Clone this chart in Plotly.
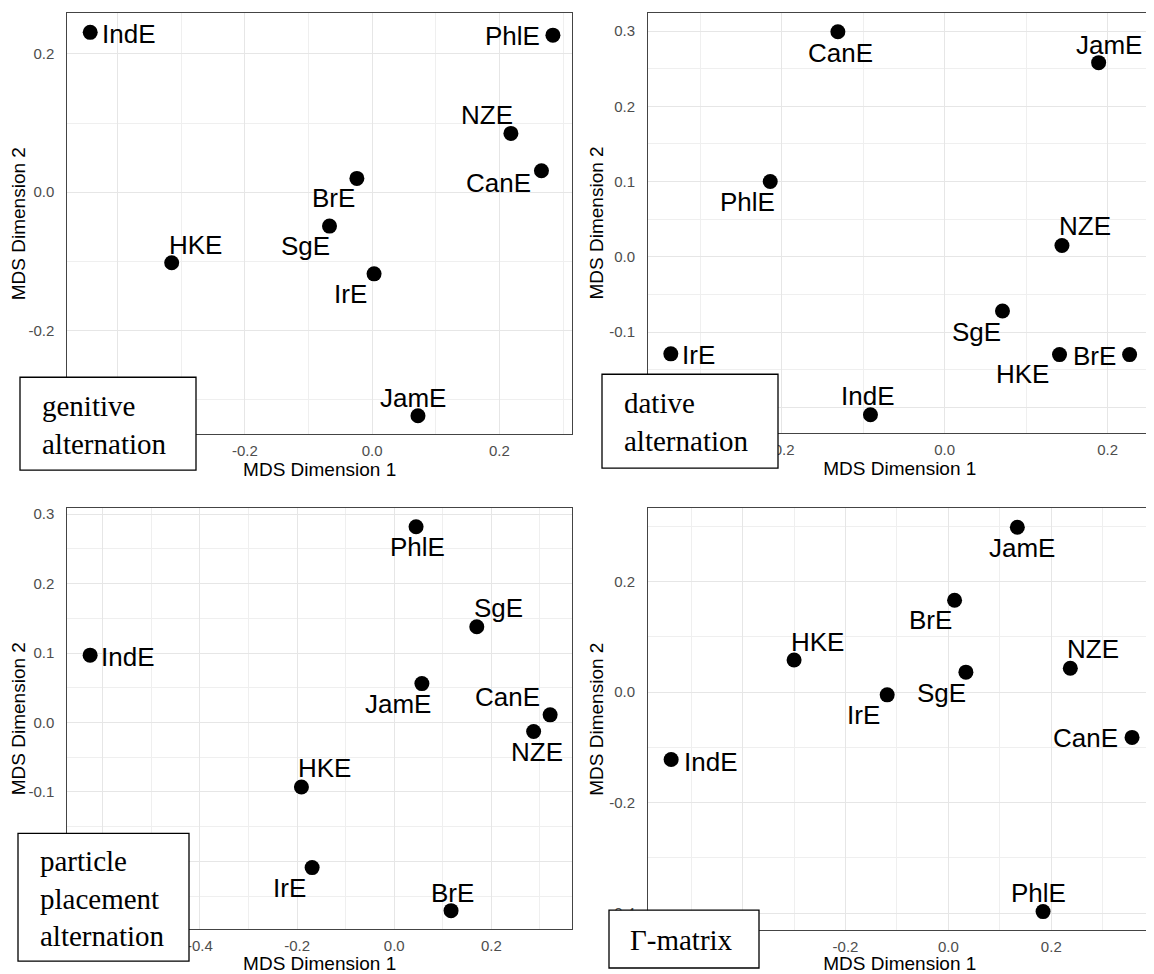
import plotly.graph_objects as go

# ---------------- data ----------------
genitive_labels = ["IndE", "PhlE", "NZE", "CanE", "BrE", "SgE", "HKE", "IrE", "JamE"]
genitive_dim1 = [-0.443, 0.284, 0.218, 0.266, -0.024, -0.067, -0.315, 0.003, 0.072]
genitive_dim2 = [0.231, 0.227, 0.085, 0.031, 0.020, -0.049, -0.102, -0.118, -0.323]

dative_labels = ["CanE", "JamE", "PhlE", "NZE", "SgE", "IrE", "HKE", "BrE", "IndE"]
dative_dim1 = [-0.131, 0.189, -0.214, 0.144, 0.071, -0.336, 0.141, 0.227, -0.091]
dative_dim2 = [0.299, 0.258, 0.100, 0.015, -0.072, -0.129, -0.130, -0.130, -0.210]

particle_labels = ["PhlE", "SgE", "IndE", "JamE", "CanE", "NZE", "HKE", "IrE", "BrE"]
particle_dim1 = [0.045, 0.170, -0.626, 0.057, 0.321, 0.287, -0.191, -0.169, 0.117]
particle_dim2 = [0.282, 0.138, 0.097, 0.056, 0.011, -0.013, -0.093, -0.209, -0.271]

gamma_labels = ["JamE", "BrE", "HKE", "NZE", "SgE", "IrE", "CanE", "IndE", "PhlE"]
gamma_dim1 = [0.134, 0.012, -0.300, 0.237, 0.034, -0.119, 0.357, -0.539, 0.184]
gamma_dim2 = [0.298, 0.166, 0.058, 0.043, 0.036, -0.005, -0.082, -0.122, -0.397]

panel_titles = ["genitive<br>alternation", "dative<br>alternation",
                "particle<br>placement<br>alternation", "Γ-matrix"]

x_tickvals = [[-0.4, -0.2, 0.0, 0.2], [-0.2, 0.0, 0.2],
              [-0.6, -0.4, -0.2, 0.0, 0.2], [-0.4, -0.2, 0.0, 0.2, 0.4]]
x_ticktext = [["-0.4", "-0.2", "0.0", "0.2"], ["-0.2", "0.0", "0.2"],
              ["-0.6", "-0.4", "-0.2", "0.0", "0.2"], ["-0.4", "-0.2", "0.0", "0.2", "0.4"]]
y_tickvals = [[-0.2, 0.0, 0.2], [-0.2, -0.1, 0.0, 0.1, 0.2, 0.3],
              [-0.2, -0.1, 0.0, 0.1, 0.2, 0.3], [-0.4, -0.2, 0.0, 0.2]]
y_ticktext = [["-0.2", "0.0", "0.2"], ["-0.2", "-0.1", "0.0", "0.1", "0.2", "0.3"],
              ["-0.2", "-0.1", "0.0", "0.1", "0.2", "0.3"], ["-0.4", "-0.2", "0.0", "0.2"]]

# ---------------- styling / layout ----------------
OFF = 8                      # page body margin of the html page
W, H = 1154 - OFF, 974 - OFF
SANS = "Liberation Sans, Arial, sans-serif"
SERIF = "Liberation Serif, Times New Roman, serif"


def px_x(p):
    return (p - OFF) / W


def px_y(p):
    return 1 - (p - OFF) / H


# label placement (anchor, dx px, dy px) — ggrepel-like offsets
label_place = [
    {"IndE": ("left", 10, -2), "PhlE": ("right", -11, -1), "NZE": ("center", -24, 18),
     "CanE": ("center", -43, -12), "BrE": ("center", -23, -20), "SgE": ("center", -24, -20),
     "HKE": ("center", 24, 18), "IrE": ("center", -24, -20), "JamE": ("center", -5, 18)},
    {"CanE": ("center", 3, -21), "JamE": ("center", 10, 18), "PhlE": ("center", -23, -20),
     "NZE": ("center", 23, 19), "SgE": ("center", -26, -21), "IrE": ("left", 9, -1),
     "HKE": ("center", -37, -19), "BrE": ("right", -12, -1), "IndE": ("center", -2, 19)},
    {"PhlE": ("center", 1, -20), "SgE": ("center", 22, 19), "IndE": ("left", 9, -2),
     "JamE": ("center", -24, -20), "CanE": ("center", -43, 18), "NZE": ("center", 3, -20),
     "HKE": ("center", 23, 19), "IrE": ("center", -23, -20), "BrE": ("center", 1, 18)},
    {"JamE": ("center", 5, -21), "BrE": ("center", -24, -20), "HKE": ("center", 23, 18),
     "NZE": ("center", 23, 19), "SgE": ("center", -24, -21), "IrE": ("center", -24, -20),
     "CanE": ("right", -12, -1), "IndE": ("left", 11, -2), "PhlE": ("center", -5, 19)},
]

# plot areas in reference pixels (left, right, top, bottom)
areas = [(67.3, 572.0, 11.0, 433.3), (648.0, 1151.6, 11.0, 431.7),
         (67.3, 572.0, 507.0, 929.3), (648.0, 1151.6, 507.0, 930.3)]
x_ranges = [[-0.479, 0.314], [-0.364, 0.254], [-0.673, 0.366], [-0.584, 0.395]]
y_ranges = [[-0.350, 0.259], [-0.234, 0.324], [-0.298, 0.309], [-0.431, 0.333]]
y_minor = [0.1, 0.05, 0.05, 0.1]

# boxes (x0, x1, top, bottom) in reference px, text anchor (x, ycenter)
boxes = [(20, 196, 376, 469), (602, 778, 373, 467), (18, 189, 833, 961), (609, 759, 910, 968)]
box_text_pos = [(40, 424), (622, 421), (38, 898), (628, 940)]

panels = [
    (genitive_labels, genitive_dim1, genitive_dim2),
    (dative_labels, dative_dim1, dative_dim2),
    (particle_labels, particle_dim1, particle_dim2),
    (gamma_labels, gamma_dim1, gamma_dim2),
]

fig = go.Figure()
annotations = []
shapes = []
layout = {}

for i, (labs, xs, ys) in enumerate(panels):
    n = "" if i == 0 else str(i + 1)
    xref, yref = "x" + n, "y" + n
    fig.add_trace(go.Scatter(
        x=xs, y=ys, mode="markers", xaxis=xref, yaxis=yref,
        marker=dict(size=15, color="black"), hoverinfo="text", text=labs,
        showlegend=False))
    l, r, t, b = areas[i]
    common = dict(showline=True, mirror=True, linecolor="#444444", linewidth=1,
                  showgrid=True, gridcolor="#e6e6e6", gridwidth=1, zeroline=False,
                  ticks="", tickmode="array",
                  tickfont=dict(family=SANS, size=15, color="#4d4d4d"))
    layout["xaxis" + n] = dict(
        common, domain=[px_x(l), min(px_x(r), 1.0)], anchor=yref, range=x_ranges[i],
        tickvals=x_tickvals[i], ticktext=x_ticktext[i], ticklabelstandoff=3,
        minor=dict(tickmode="linear", tick0=0, dtick=0.1, showgrid=True,
                   gridcolor="#efefef", gridwidth=1),
        title=dict(text="MDS Dimension 1", font=dict(family=SANS, size=19, color="black"),
                   standoff=4))
    layout["yaxis" + n] = dict(
        common, domain=[px_y(b), px_y(t)], anchor=xref, range=y_ranges[i],
        tickvals=y_tickvals[i], ticktext=y_ticktext[i], ticklabelstandoff=9,
        minor=dict(tickmode="linear", tick0=0, dtick=y_minor[i], showgrid=True,
                   gridcolor="#efefef", gridwidth=1),
        title=dict(text="MDS Dimension 2", font=dict(family=SANS, size=19, color="black"),
                   standoff=0))
    for lab, xv, yv in zip(labs, xs, ys):
        anc, dx, dy = label_place[i][lab]
        annotations.append(dict(
            x=xv, y=yv, xref=xref, yref=yref, text=lab, showarrow=False,
            xanchor=anc, yanchor="middle", xshift=dx, yshift=dy,
            font=dict(family=SANS, size=26, color="black")))
    bx0, bx1, bt, bb = boxes[i]
    shapes.append(dict(type="rect", xref="paper", yref="paper",
                       x0=px_x(bx0), x1=px_x(bx1), y0=px_y(bb), y1=px_y(bt),
                       line=dict(color="black", width=1.3), fillcolor="white",
                       layer="above"))
    tx, ty = box_text_pos[i]
    annotations.append(dict(
        x=px_x(tx), y=px_y(ty), xref="paper", yref="paper", text=panel_titles[i],
        showarrow=False, xanchor="left", yanchor="middle", align="left",
        font=dict(family=SERIF, size=29, color="black")))

fig.update_layout(
    width=W, height=H, margin=dict(l=0, r=0, t=0, b=0),
    paper_bgcolor="white", plot_bgcolor="white",
    annotations=annotations, shapes=shapes, **layout)

fig.write_html("out.html")
